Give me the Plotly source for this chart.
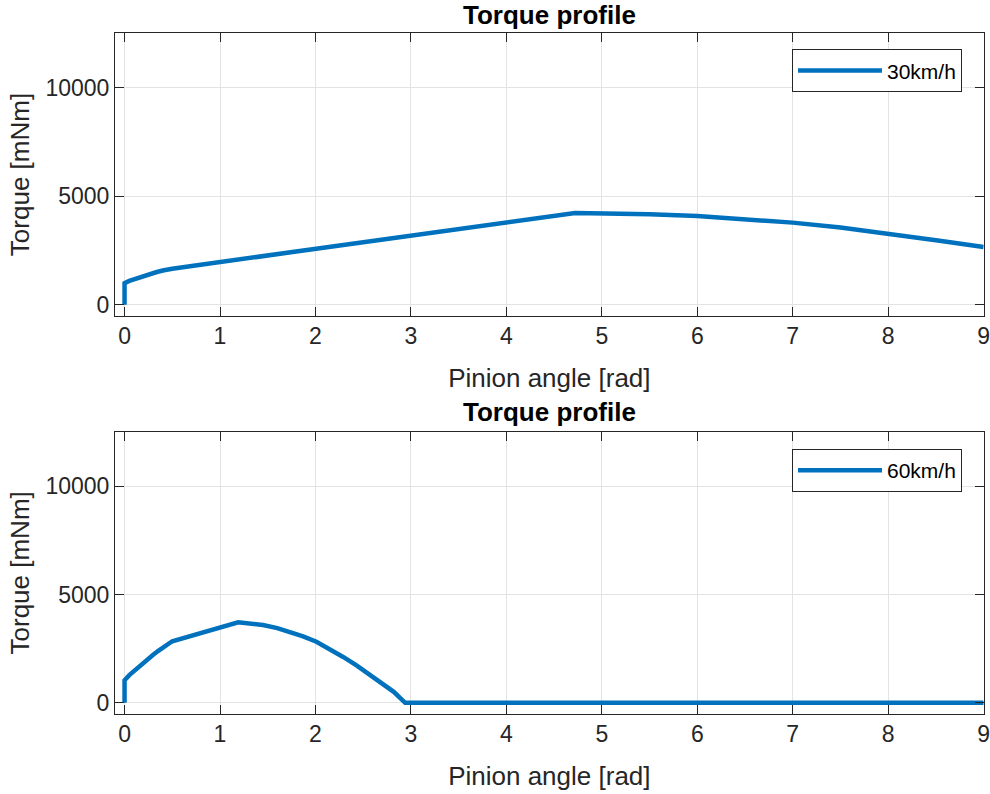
import plotly.graph_objects as go

# ---- data ----
angle_30 = [0, 0, 0.05, 0.1, 0.157, 0.25, 0.33, 0.4, 0.5, 4.72, 5.0, 5.5, 6.0, 6.5, 7.0, 7.5, 8.0, 8.5, 9.0]
torque_30 = [0, 1000, 1100, 1180, 1250, 1390, 1500, 1580, 1665, 4230, 4215, 4170, 4085, 3955, 3785, 3560, 3280, 2975, 2660]

angle_60 = [0, 0, 0.05, 0.1, 0.15, 0.2, 0.25, 0.3, 0.35, 0.4, 0.45, 0.5, 1.19, 1.3, 1.45, 1.6, 1.73, 1.87, 2.01, 2.15, 2.29, 2.43, 2.57, 2.7, 2.82, 2.94, 9.0]
torque_60 = [0, 1040, 1280, 1480, 1680, 1870, 2050, 2220, 2390, 2560, 2710, 2845, 3720, 3685, 3590, 3450, 3280, 3070, 2820, 2490, 2120, 1730, 1310, 900, 510, 0, 0]

x_ticks = [0, 1, 2, 3, 4, 5, 6, 7, 8, 9]
y_ticks = [0, 5000, 10000]
y_tick_labels = ["0", "5000", "10000"]
x_range = [-0.1, 9.0005]
y_range = [-500, 12500]
series_names = ["30km/h", "60km/h"]
title_text = "Torque profile"
x_label = "Pinion angle [rad]"
y_label = "Torque [mNm]"

FONT = "Liberation Sans, Arial, Helvetica, sans-serif"
BLUE = "#0072BD"
AX = "#262626"
GRID = "#e3e3e3"

fig = go.Figure()
fig.add_trace(go.Scatter(x=angle_30, y=torque_30, mode="lines", name=series_names[0],
                         line=dict(color=BLUE, width=4.5), xaxis="x", yaxis="y", legend="legend"))
fig.add_trace(go.Scatter(x=angle_60, y=torque_60, mode="lines", name=series_names[1],
                         line=dict(color=BLUE, width=4.5), xaxis="x2", yaxis="y2", legend="legend2"))

W, H = 990, 794
xdom = [115 / W, 983.7 / W]
ydom_top = [1 - 315.7 / H, 1 - 33.3 / H]
ydom_bot = [1 - 713.7 / H, 1 - 432 / H]

def xaxis(anchor):
    return dict(domain=xdom, anchor=anchor, range=x_range, tickvals=x_ticks,
                showgrid=True, gridcolor=GRID, gridwidth=1, zeroline=False,
                showline=True, linecolor=AX, linewidth=1, mirror="ticks",
                ticks="inside", ticklen=9, tickcolor=AX, tickwidth=1,
                ticklabeloverflow="allow",
                tickfont=dict(family=FONT, size=23, color=AX),
                title=dict(text=x_label, font=dict(family=FONT, size=26, color=AX), standoff=20),
                automargin=False)

def yaxis(anchor, dom):
    return dict(domain=dom, anchor=anchor, range=y_range, tickvals=y_ticks, ticktext=y_tick_labels,
                showgrid=True, gridcolor=GRID, gridwidth=1, zeroline=False,
                showline=True, linecolor=AX, linewidth=1, mirror="ticks",
                ticks="inside", ticklen=9, tickcolor=AX, tickwidth=1,
                tickfont=dict(family=FONT, size=23, color=AX),
                title=dict(text=y_label, font=dict(family=FONT, size=26, color=AX), standoff=8),
                automargin=False)

legend_common = dict(bgcolor="white", bordercolor=AX, borderwidth=1,
                     font=dict(family=FONT, size=21, color="black"),
                     xanchor="right", yanchor="top", itemwidth=84)

fig.update_layout(
    width=W, height=H,
    margin=dict(l=0, r=0, t=0, b=0),
    paper_bgcolor="white", plot_bgcolor="white",
    showlegend=True,
    xaxis=xaxis("y"), yaxis=yaxis("x", ydom_top),
    xaxis2=xaxis("y2"), yaxis2=yaxis("x2", ydom_bot),
    legend=dict(x=962 / W, y=1 - 49.3 / H, **legend_common),
    legend2=dict(x=962 / W, y=1 - 449 / H, **legend_common),
    annotations=[
        dict(text="<b>" + title_text + "</b>", x=549.4 / W, y=1 - 15 / H, xref="paper", yref="paper",
             xanchor="center", yanchor="middle", showarrow=False,
             font=dict(family=FONT, size=26, color="black")),
        dict(text="<b>" + title_text + "</b>", x=549.4 / W, y=1 - 412 / H, xref="paper", yref="paper",
             xanchor="center", yanchor="middle", showarrow=False,
             font=dict(family=FONT, size=26, color="black")),
    ],
)

fig.write_html("out.html", config={"displayModeBar": False},
               post_script="document.body.style.margin='0px';")
